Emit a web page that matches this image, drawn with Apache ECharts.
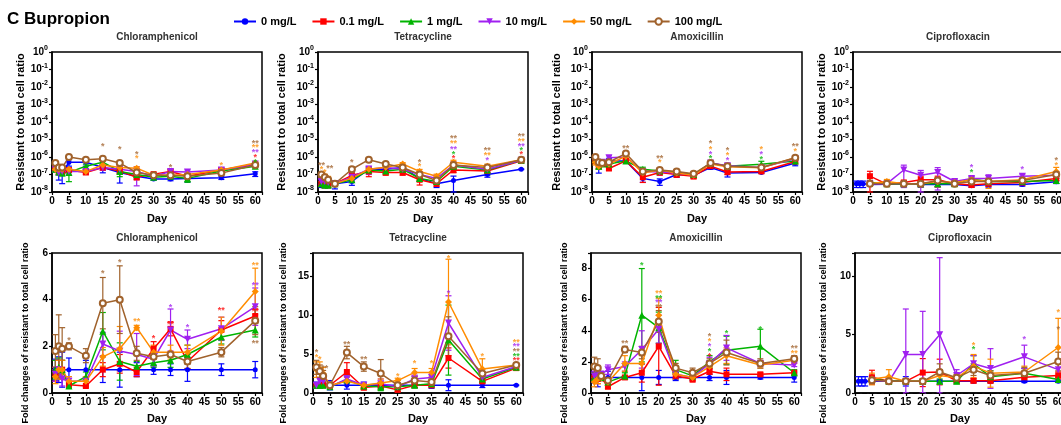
<!DOCTYPE html>
<html>
<head>
<meta charset="utf-8">
<script src="https://cdn.jsdelivr.net/npm/echarts@6/dist/echarts.min.js"></script>
<style>
  body { margin: 0; background: #fff; }
  #main { width: 1061px; height: 425px; }
</style>
</head>
<body>
<div id="main"></div>
<script>
// sampling days
var days = [1, 2, 3, 5, 10, 15, 20, 25, 30, 35, 40, 50, 60];
var groups = ["0 mg/L", "0.1 mg/L", "1 mg/L", "10 mg/L", "50 mg/L", "100 mg/L"];
var drugs = ["Chloramphenicol", "Tetracycline", "Amoxicillin", "Ciprofloxacin"];

// resistant / total cell ratio (rows = groups)
var chlRatio = [
  [3e-7, 1.2e-7, 1.2e-7, 5e-7, 5e-7, 2.5e-7, 1.3e-7, 8e-8, 5.5e-8, 5.5e-8, 6e-8, 6.5e-8, 1.1e-7],
  [2.5e-7, 1.5e-7, 1.5e-7, 1.8e-7, 1.3e-7, 2.5e-7, 1.6e-7, 7e-8, 1.05e-7, 1.5e-7, 8e-8, 1.8e-7, 3.6e-7],
  [2e-7, 1.4e-7, 1.2e-7, 1.3e-7, 3e-7, 5e-7, 1.5e-7, 1e-7, 7e-8, 8e-8, 6e-8, 1.6e-7, 3e-7],
  [2e-7, 1.3e-7, 1.5e-7, 1.5e-7, 1.5e-7, 2.5e-7, 2e-7, 1.5e-7, 8e-8, 1.5e-7, 1.4e-7, 1.8e-7, 4e-7],
  [2e-7, 2e-7, 2e-7, 2e-7, 1.5e-7, 3.5e-7, 2.5e-7, 2.3e-7, 9e-8, 9e-8, 1e-7, 1.8e-7, 4.5e-7],
  [4.5e-7, 2.5e-7, 2.5e-7, 1e-6, 7e-7, 8e-7, 4.5e-7, 1.3e-7, 9e-8, 9e-8, 8e-8, 1.2e-7, 3.5e-7]
];
var tetRatio = [
  [3e-8, 2.5e-8, 2.5e-8, 3e-8, 4e-8, 2e-7, 2e-7, 2.5e-7, 6e-8, 3e-8, 4.5e-8, 1e-7, 2e-7],
  [3e-8, 2.5e-8, 2.5e-8, 3e-8, 9e-8, 1.5e-7, 1.3e-7, 1.3e-7, 5e-8, 3e-8, 1.8e-7, 1.6e-7, 6e-7],
  [3e-8, 2.5e-8, 2.5e-8, 3e-8, 5e-8, 1.8e-7, 1.6e-7, 2e-7, 6e-8, 4e-8, 3e-7, 1.8e-7, 6.5e-7],
  [4e-8, 4e-8, 3.5e-8, 3e-8, 7e-8, 2e-7, 2.5e-7, 2e-7, 1e-7, 6e-8, 3.5e-7, 2e-7, 6.5e-7],
  [1e-7, 8e-8, 6e-8, 3e-8, 6e-8, 2e-7, 2.6e-7, 4e-7, 1.5e-7, 8e-8, 5e-7, 3e-7, 7e-7],
  [1e-7, 7e-8, 5e-8, 3e-8, 2e-7, 7e-7, 4e-7, 2.5e-7, 1e-7, 4.5e-8, 3.5e-7, 2.5e-7, 7e-7]
];
var amxRatio = [
  [7e-7, 3e-7, 4e-7, 6e-7, 6e-7, 6e-8, 4e-8, 1e-7, 9e-8, 2.5e-7, 1.2e-7, 1.3e-7, 4.5e-7],
  [6e-7, 3e-7, 4e-7, 2.2e-7, 6e-7, 7e-8, 1.3e-7, 1e-7, 8e-8, 3e-7, 1.4e-7, 1.5e-7, 5.5e-7],
  [7e-7, 3e-7, 4e-7, 4e-7, 6e-7, 2e-7, 1.6e-7, 1.4e-7, 1e-7, 4.5e-7, 3e-7, 3.8e-7, 6e-7],
  [7e-7, 4e-7, 5e-7, 9e-7, 1e-6, 1.5e-7, 1.4e-7, 1.2e-7, 9e-8, 4.5e-7, 3.2e-7, 2.5e-7, 8e-7],
  [5e-7, 3e-7, 4e-7, 4e-7, 1.1e-6, 1.2e-7, 1.8e-7, 1.2e-7, 9e-8, 4e-7, 2.8e-7, 2.4e-7, 9e-7],
  [1e-6, 5e-7, 4.5e-7, 5e-7, 1.6e-6, 1.5e-7, 1.8e-7, 1.5e-7, 1.1e-7, 4.5e-7, 3e-7, 2.5e-7, 9e-7]
];
var cipRatio = [
  [3e-8, 3e-8, 3e-8, 2.7e-8, 2.8e-8, 3e-8, 2.7e-8, 2.7e-8, 2.7e-8, 2.3e-8, 2.7e-8, 2.7e-8, 3.8e-8],
  [null, null, null, 8e-8, 2.8e-8, 3.5e-8, 5e-8, 5e-8, 3e-8, 2.5e-8, 3e-8, 3.5e-8, 6e-8],
  [null, null, null, 3.5e-8, 3e-8, 3e-8, 3e-8, 3e-8, 3e-8, 5.5e-8, 4e-8, 4e-8, 4.5e-8],
  [null, null, null, 3e-8, 3e-8, 1.8e-7, 9e-8, 1.3e-7, 4e-8, 6e-8, 6e-8, 8e-8, 9e-8],
  [null, null, null, 3e-8, 4e-8, 3e-8, 3e-8, 4e-8, 3.5e-8, 5e-8, 4e-8, 5e-8, 1.5e-7],
  [null, null, null, 3e-8, 3e-8, 3e-8, 3e-8, 4.5e-8, 3e-8, 4e-8, 4e-8, 4.5e-8, 1e-7]
];
// error of the ratio, as a fraction of the value
var chlRatioErr = [
  [0.5, 0.6, 0.75, 0.4, 0.4, 0.5, 0.75, 0.3, 0.15, 0.2, 0.4, 0.2, 0.3],
  [0.3, 0.3, 0.3, 0.2, 0.2, 0.3, 0.3, 0.3, 0.2, 0.2, 0.3, 0.2, 0.2],
  [0.3, 0.3, 0.3, 0.7, 0.3, 0.3, 0.5, 0.3, 0.2, 0.2, 0.4, 0.2, 0.2],
  [0.3, 0.3, 0.3, 0.3, 0.3, 0.3, 0.4, 0.85, 0.2, 0.3, 0.3, 0.3, 0.2],
  [0.2, 0.2, 0.2, 0.2, 0.2, 0.2, 0.3, 0.2, 0.2, 0.2, 0.2, 0.3, 0.2],
  [0.2, 0.3, 0.3, 0.2, 0.2, 0.2, 0.2, 0.3, 0.1, 0.1, 0.2, 0.2, 0.2]
];
var tetRatioErr = [
  [0.4, 0.3, 0.3, 0.5, 0.4, 0.3, 0.3, 0.3, 0.3, 0.4, 0.8, 0.3, 0.05],
  [0.3, 0.3, 0.3, 0.3, 0.3, 0.5, 0.3, 0.3, 0.5, 0.3, 0.3, 0.3, 0.2],
  [0.3, 0.3, 0.3, 0.3, 0.3, 0.3, 0.3, 0.3, 0.3, 0.3, 0.3, 0.5, 0.2],
  [0.3, 0.3, 0.3, 0.3, 0.3, 0.5, 0.5, 0.3, 0.3, 0.5, 0.3, 0.3, 0.2],
  [0.3, 0.3, 0.3, 0.3, 0.3, 0.3, 0.3, 0.2, 0.3, 0.3, 0.3, 0.3, 0.2],
  [0.3, 0.3, 0.3, 0.3, 0.3, 0.3, 0.3, 0.3, 0.3, 0.3, 0.3, 0.3, 0.2]
];
var amxRatioErr = [
  [0.3, 0.6, 0.2, 0.4, 0.1, 0.4, 0.4, 0.3, 0.3, 0.2, 0.4, 0.1, 0.3],
  [0.3, 0.3, 0.2, 0.2, 0.2, 0.5, 0.3, 0.3, 0.3, 0.2, 0.3, 0.2, 0.2],
  [0.3, 0.3, 0.2, 0.2, 0.2, 0.3, 0.3, 0.3, 0.3, 0.2, 0.3, 0.5, 0.2],
  [0.3, 0.3, 0.2, 0.3, 0.3, 0.3, 0.3, 0.3, 0.3, 0.2, 0.3, 0.2, 0.2],
  [0.3, 0.3, 0.2, 0.2, 0.2, 0.3, 0.3, 0.3, 0.3, 0.2, 0.3, 0.2, 0.2],
  [0.2, 0.3, 0.2, 0.2, 0.2, 0.3, 0.3, 0.3, 0.3, 0.2, 0.3, 0.2, 0.2]
];
var cipRatioErr = [
  [0.4, 0.4, 0.4, 0.2, 0.2, 0.3, 0.3, 0.3, 0.2, 0.2, 0.3, 0.2, 0.2],
  [null, null, null, 0.9, 0.2, 0.3, 0.6, 0.6, 0.2, 0.2, 0.3, 0.3, 0.3],
  [null, null, null, 0.3, 0.2, 0.3, 0.3, 0.3, 0.2, 0.3, 0.3, 0.3, 0.3],
  [null, null, null, 0.3, 0.2, 0.9, 0.9, 0.9, 0.3, 0.3, 0.6, 0.3, 0.3],
  [null, null, null, 0.3, 0.3, 0.3, 0.3, 0.5, 0.3, 0.3, 0.6, 0.3, 0.7],
  [null, null, null, 0.3, 0.2, 0.3, 0.3, 0.4, 0.3, 0.3, 0.3, 0.3, 0.4]
];

// fold changes vs 0 mg/L
var chlFold = [
  [1, 1, 1, 1, 1, 1, 1, 1, 1, 1, 1, 1, 1],
  [0.8, 1.0, 1.0, 0.35, 0.3, 1.0, 1.25, 0.9, 1.9, 2.75, 1.35, 2.7, 3.3],
  [1.0, 1.1, 1.0, 0.3, 0.7, 2.65, 1.35, 1.15, 1.3, 1.4, 1.65, 2.4, 2.7],
  [0.8, 1.0, 0.6, 0.5, 0.5, 2.1, 1.8, 1.65, 1.45, 2.7, 2.3, 2.75, 3.7],
  [0.7, 1.0, 1.0, 0.5, 0.5, 1.55, 1.9, 2.8, 1.75, 1.75, 1.75, 2.65, 4.35],
  [1.8, 2.0, 1.9, 2.0, 1.6, 3.85, 4.0, 1.7, 1.55, 1.65, 1.35, 1.75, 3.1]
];
var chlFoldErr = [
  [0.45, 0.55, 0.75, 0.5, 0.4, 0.55, 0.75, 0.3, 0.2, 0.25, 0.5, 0.25, 0.35],
  [0.3, 0.4, 0.4, 0.1, 0.05, 0.3, 0.4, 0.2, 0.3, 0.3, 0.3, 0.4, 0.3],
  [0.4, 0.4, 0.4, 0.1, 0.2, 0.8, 0.8, 0.2, 0.2, 0.3, 0.4, 0.3, 0.3],
  [0.3, 0.4, 0.3, 0.2, 0.2, 0.5, 0.85, 0.9, 0.3, 0.9, 0.4, 0.5, 0.8],
  [0.3, 0.4, 0.4, 0.2, 0.2, 0.4, 0.95, 0.1, 0.3, 0.3, 0.3, 0.6, 1.0],
  [0.7, 1.35, 0.9, 0.15, 0.3, 1.1, 1.45, 0.3, 0.1, 0.1, 0.3, 0.2, 0.6]
];
var tetFold = [
  [1, 1, 1, 1, 1, 1, 1, 1, 1, 1, 1, 1, 1],
  [1.0, 1.0, 1.0, 1.0, 2.7, 0.7, 0.9, 0.4, 1.0, 1.0, 4.5, 1.5, 3.2],
  [1.0, 1.0, 1.0, 0.8, 1.7, 0.9, 0.8, 0.8, 1.0, 1.2, 6.8, 1.8, 3.3],
  [1.0, 1.5, 1.5, 0.8, 1.8, 1.0, 1.2, 0.8, 1.8, 2.0, 9.0, 2.0, 3.4],
  [3.0, 3.0, 2.5, 1.0, 1.5, 1.0, 1.3, 1.6, 2.65, 2.65, 11.7, 3.1, 3.6],
  [3.3, 2.8, 2.2, 1.0, 5.2, 3.4, 2.5, 1.0, 1.6, 1.4, 7.3, 2.5, 3.6]
];
var tetFoldErr = [
  [0.4, 0.3, 0.3, 0.6, 0.5, 0.4, 0.3, 0.3, 0.3, 0.4, 0.7, 0.3, 0.05],
  [0.3, 0.3, 0.3, 0.3, 1.2, 0.3, 0.5, 0.2, 0.3, 0.3, 1.3, 0.3, 0.2],
  [0.3, 0.3, 0.3, 0.3, 0.5, 0.3, 0.5, 0.3, 0.3, 0.3, 4.5, 0.4, 0.2],
  [0.3, 0.5, 0.5, 0.3, 0.5, 0.3, 0.6, 0.3, 0.5, 0.6, 3.5, 0.5, 0.2],
  [1.0, 1.0, 0.8, 0.3, 0.5, 0.3, 0.5, 0.3, 0.5, 0.5, 5.5, 1.3, 0.2],
  [0.9, 0.8, 0.7, 0.3, 0.8, 0.6, 1.8, 0.3, 0.5, 0.4, 2.5, 0.6, 0.2]
];
var amxFold = [
  [1, 1, 1, 1, 1, 1, 1, 1, 1, 1, 1, 1, 1],
  [1.0, 0.9, 1.0, 0.4, 1.0, 1.3, 3.0, 1.1, 0.9, 1.4, 1.2, 1.2, 1.3],
  [1.0, 1.1, 1.0, 0.7, 1.1, 5.0, 4.2, 1.5, 1.1, 2.0, 2.75, 3.0, 1.3],
  [1.1, 1.1, 1.2, 1.5, 1.7, 2.8, 4.1, 1.2, 1.0, 1.9, 2.9, 1.9, 1.8],
  [0.7, 0.9, 1.0, 0.7, 1.9, 1.9, 5.0, 1.2, 1.0, 1.7, 2.4, 1.8, 2.1],
  [1.7, 1.6, 1.1, 0.8, 2.8, 2.6, 4.6, 1.6, 1.3, 1.9, 2.6, 1.9, 2.2]
];
var amxFoldErr = [
  [0.35, 0.6, 0.2, 0.4, 0.05, 0.85, 0.45, 0.2, 0.2, 0.2, 0.45, 0.1, 0.3],
  [0.3, 0.3, 0.2, 0.1, 0.1, 0.6, 2.5, 0.2, 0.2, 0.2, 0.4, 0.1, 0.1],
  [0.3, 0.3, 0.2, 0.1, 0.2, 3.0, 1.0, 0.6, 0.2, 0.4, 0.9, 1.1, 0.2],
  [0.3, 0.3, 0.2, 0.3, 0.3, 1.2, 0.9, 0.3, 0.2, 0.4, 0.8, 0.2, 0.1],
  [0.3, 0.3, 0.2, 0.1, 0.5, 0.5, 1.1, 0.3, 0.2, 0.3, 0.5, 0.2, 0.2],
  [0.6, 0.6, 0.2, 0.2, 0.2, 0.4, 0.7, 0.3, 0.3, 0.3, 0.8, 0.3, 0.2]
];
var cipFold = [
  [1, 1, 1, 1, 1, 1, 1, 1, 1, 1, 1, 1, 1],
  [null, null, null, 1.35, 1.0, 1.0, 1.75, 1.8, 1.05, 1.05, 1.05, 1.35, 1.5],
  [null, null, null, 1.2, 1.0, 1.0, 1.0, 1.0, 1.0, 2.5, 1.4, 1.7, 1.15],
  [null, null, null, 1.1, 1.0, 3.3, 3.3, 5.0, 1.5, 2.5, 2.1, 3.1, 2.0],
  [null, null, null, 1.2, 1.4, 1.0, 1.0, 1.5, 1.3, 2.3, 1.7, 1.8, 3.9],
  [null, null, null, 1.1, 1.0, 1.0, 1.0, 1.8, 1.3, 2.0, 1.5, 1.7, 2.7]
];
var cipFoldErr = [
  [0.4, 0.4, 0.4, 0.1, 0.1, 0.4, 0.1, 0.1, 0.1, 0.1, 0.1, 0.1, 0.1],
  [null, null, null, 0.6, 0.2, 0.2, 1.2, 1.1, 0.1, 0.2, 0.2, 0.3, 0.3],
  [null, null, null, 0.3, 0.2, 0.2, 0.2, 0.2, 0.2, 0.7, 0.5, 0.4, 0.2],
  [null, null, null, 0.3, 0.2, 3.9, 3.7, 6.6, 0.5, 0.7, 1.7, 1.0, 0.6],
  [null, null, null, 0.5, 0.6, 0.2, 0.2, 0.5, 0.3, 1.0, 1.2, 0.5, 2.5],
  [null, null, null, 0.3, 0.2, 0.2, 0.2, 0.7, 0.3, 0.5, 0.4, 0.5, 0.8]
];
var foldMax = [6, 18, 9, 12];
var foldStep = [2, 5, 2, 5];

// significance marks: [day, y, mark, group]
var chlStarsTop = [
  [15, 5e-6, "*", 5], [20, 3.3e-6, "*", 5], [25, 1.9e-6, "*", 5], [25, 1.1e-6, "*", 4],
  [35, 3.3e-7, "*", 5], [50, 4.1e-7, "*", 4],
  [60, 8e-6, "**", 5], [60, 4.3e-6, "**", 4], [60, 2.3e-6, "**", 3], [60, 1.25e-6, "*", 1], [60, 6.7e-7, "*", 2]
];
var tetStarsTop = [
  [1, 4.5e-7, "**", 5], [1, 2.5e-7, "*", 4], [2, 1.6e-7, "*", 4], [3.5, 3e-7, "**", 5],
  [10, 5.9e-7, "*", 5], [30, 5.9e-7, "*", 5], [30, 3.5e-7, "*", 4],
  [40, 1.4e-5, "**", 5], [40, 7.2e-6, "**", 4], [40, 3.7e-6, "**", 3], [40, 1.9e-6, "*", 2], [40, 1e-6, "*", 1],
  [50, 3e-6, "**", 5], [50, 1.5e-6, "**", 4], [50, 8e-7, "*", 3],
  [60, 2e-5, "**", 5], [60, 1e-5, "**", 4], [60, 5.3e-6, "**", 3], [60, 3e-6, "*", 2], [60, 1.7e-6, "*", 1]
];
var amxStarsTop = [
  [10, 4.1e-6, "**", 5], [20, 1.1e-6, "**", 5], [20, 5.9e-7, "*", 4],
  [35, 7.2e-6, "*", 5], [35, 3.7e-6, "*", 4], [35, 1.9e-6, "*", 3], [35, 1.1e-6, "*", 2],
  [40, 3e-6, "*", 5], [40, 1.5e-6, "*", 4], [40, 8e-7, "*", 3],
  [50, 3.4e-6, "*", 4], [50, 1.8e-6, "*", 3], [50, 9e-7, "*", 2],
  [60, 5.3e-6, "**", 5], [60, 2.6e-6, "*", 4]
];
var cipStarsTop = [
  [35, 3.3e-7, "*", 3], [35, 1.6e-7, "*", 2], [50, 2.5e-7, "*", 3],
  [60, 8e-7, "*", 5], [60, 4.5e-7, "*", 4]
];
var chlStarsFold = [
  [5, 2.34, "*", 5], [15, 5.2, "*", 5], [20, 5.68, "*", 5], [25, 3.13, "**", 4],
  [30, 2.44, "*", 1], [35, 3.77, "*", 3], [35, 3.0, "**", 1], [40, 2.91, "*", 3], [50, 3.6, "**", 1],
  [60, 5.54, "**", 4], [60, 4.68, "**", 3], [60, 3.56, "**", 1], [60, 2.2, "**", 5]
];
var tetStarsFold = [
  [1, 5.5, "*", 5], [1, 4.8, "*", 4], [2, 4.5, "*", 4], [3.5, 3.45, "**", 5],
  [10, 6.47, "**", 5], [15, 4.5, "**", 5], [25, 2.4, "*", 4], [30, 4.1, "*", 4], [35, 4.0, "*", 4],
  [40, 17.6, "*", 4], [40, 13, "*", 3], [50, 5.0, "*", 4],
  [60, 6.8, "**", 4], [60, 6.2, "**", 3], [60, 5.6, "**", 5], [60, 5.0, "**", 2], [60, 4.4, "**", 1]
];
var amxStarsFold = [
  [10, 3.33, "**", 5], [15, 8.33, "*", 2],
  [20, 6.5, "**", 4], [20, 6.22, "**", 2], [20, 5.92, "**", 3], [20, 5.64, "**", 5],
  [35, 3.78, "*", 5], [35, 3.45, "*", 4], [35, 3.13, "*", 3], [35, 2.81, "*", 2], [35, 2.49, "*", 1],
  [40, 3.93, "*", 2], [50, 4.22, "*", 2], [60, 2.96, "**", 5], [60, 2.64, "**", 4]
];
var cipStarsFold = [
  [35, 4.27, "*", 4], [35, 3.93, "*", 2], [50, 4.73, "*", 3], [60, 7.08, "*", 4], [60, 5.64, "*", 5]
];

var ratioData = [chlRatio, tetRatio, amxRatio, cipRatio];
var ratioErr = [chlRatioErr, tetRatioErr, amxRatioErr, cipRatioErr];
var foldData = [chlFold, tetFold, amxFold, cipFold];
var foldErr = [chlFoldErr, tetFoldErr, amxFoldErr, cipFoldErr];
var starData = [chlStarsTop, tetStarsTop, amxStarsTop, cipStarsTop,
                chlStarsFold, tetStarsFold, amxStarsFold, cipStarsFold];

// styling
var colors = ["#0000FF", "#FF0000", "#00B400", "#A020F0", "#FF8C00", "#A0622C"];
var symbols = ["circle", "rect", "triangle", "triangle", "diamond", "emptyCircle"];
var symbolRot = [0, 0, 0, 180, 0, 0];
var symbolSz = [5, 6, 7, 7, 7, 6];
var FONT = "Liberation Sans";

var topLeft = [52, 318, 592, 853];
var botLeft = [52, 313, 591, 855];
var topNameGap = [22, 31, 30, 18];
var botNameGap = [22, 25, 22, 27];

var chartDom = document.getElementById("main");
var myChart = echarts.init(chartDom);

var grids = [], xAxes = [], yAxes = [], series = [], graphics = [];

function errRender(color) {
  return function (params, api) {
    var x = api.value(0);
    var lo = api.coord([x, api.value(1)]);
    var hi = api.coord([x, api.value(2)]);
    var w = 3;
    var st = { stroke: color, lineWidth: 1.2 };
    return {
      type: "group",
      children: [
        { type: "line", shape: { x1: lo[0], y1: lo[1], x2: hi[0], y2: hi[1] }, style: st },
        { type: "line", shape: { x1: hi[0] - w, y1: hi[1], x2: hi[0] + w, y2: hi[1] }, style: st },
        { type: "line", shape: { x1: lo[0] - w, y1: lo[1], x2: lo[0] + w, y2: lo[1] }, style: st }
      ]
    };
  };
}

for (var p = 0; p < 8; p++) {
  var row = p < 4 ? 0 : 1;
  var col = p % 4;
  var gLeft = row ? botLeft[col] : topLeft[col];
  var gTop = row ? 253 : 52;
  grids.push({
    left: gLeft, top: gTop, width: 210, height: 140,
    outerBoundsMode: "none", containLabel: false,
    show: true, borderColor: "#000", borderWidth: 1.5
  });
  xAxes.push({
    gridIndex: p, type: "value", min: 0, max: 62, interval: 5,
    axisLine: { onZero: false, lineStyle: { color: "#000", width: 1.5 } },
    axisTick: { length: 3, lineStyle: { color: "#000", width: 1.2 } },
    splitLine: { show: false },
    axisLabel: {
      color: "#000", fontFamily: FONT, fontWeight: "bold", fontSize: 10, margin: 4,
      formatter: function (v) { return v % 5 === 0 && v <= 60 ? v : ""; }
    },
    name: "Day", nameLocation: "middle", nameGap: row ? 20 : 21,
    nameTextStyle: { color: "#000", fontFamily: FONT, fontWeight: "bold", fontSize: 11 }
  });
  if (row === 0) {
    yAxes.push({
      gridIndex: p, type: "log", logBase: 10, min: 1e-8, max: 1,
      axisLine: { lineStyle: { color: "#000", width: 1.5 } },
      axisTick: { length: 3, lineStyle: { color: "#000", width: 1.2 } },
      splitLine: { show: false },
      axisLabel: {
        margin: 4,
        formatter: function (v) {
          return "{b|10}{s|" + Math.round(Math.log10(v)) + "}";
        },
        rich: {
          b: { color: "#000", fontFamily: FONT, fontWeight: "bold", fontSize: 10, lineHeight: 14 },
          s: { color: "#000", fontFamily: FONT, fontWeight: "bold", fontSize: 7, lineHeight: 8, verticalAlign: "top" }
        }
      },
      name: "Resistant to total cell ratio", nameLocation: "middle", nameGap: topNameGap[col],
      nameTextStyle: { color: "#000", fontFamily: FONT, fontWeight: "bold", fontSize: 11 }
    });
  } else {
    yAxes.push({
      gridIndex: p, type: "value", min: 0, max: foldMax[col], interval: foldStep[col],
      axisLine: { lineStyle: { color: "#000", width: 1.5 } },
      axisTick: { length: 3, lineStyle: { color: "#000", width: 1.2 } },
      splitLine: { show: false },
      axisLabel: {
        color: "#000", fontFamily: FONT, fontWeight: "bold", fontSize: 10, margin: 4,
        formatter: (function (step) {
          return function (v) { return v % step === 0 ? v : ""; };
        })(foldStep[col])
      },
      name: "Fold changes of resistant to total cell ratio", nameLocation: "middle", nameGap: botNameGap[col],
      nameTextStyle: { color: "#000", fontFamily: FONT, fontWeight: "bold", fontSize: 9, padding: [0, 20, 0, 0] }
    });
  }
  graphics.push({
    type: "text", x: gLeft + 105, y: row ? 238 : 37,
    style: {
      text: drugs[col], font: "bold 10px " + FONT, fill: "#333",
      align: "center", verticalAlign: "middle", textAlign: "center", textVerticalAlign: "middle"
    }
  });

  var vals = row ? foldData[col] : ratioData[col];
  var errs = row ? foldErr[col] : ratioErr[col];
  for (var g = 0; g < 6; g++) {
    var lineData = [], errData = [];
    for (var i = 0; i < days.length; i++) {
      var v = vals[g][i];
      lineData.push([days[i], v]);
      if (v == null) continue;
      var e = errs[g][i];
      if (row) {
        errData.push([days[i], Math.max(0, v - e), v + e]);
      } else {
        errData.push([days[i], Math.max(1e-8, v * (1 - e)), v * (1 + e)]);
      }
    }
    series.push({
      type: "custom", name: groups[g] + " err", xAxisIndex: p, yAxisIndex: p,
      renderItem: errRender(colors[g]), data: errData, z: 2, silent: true,
      encode: { x: 0, y: [1, 2] }
    });
    var s = {
      type: "line", name: groups[g], xAxisIndex: p, yAxisIndex: p, data: lineData,
      symbol: symbols[g], symbolSize: symbolSz[g], symbolRotate: symbolRot[g],
      connectNulls: true, z: 3,
      lineStyle: { color: colors[g], width: 1.5 },
      itemStyle: { color: colors[g], borderColor: colors[g], borderWidth: g === 5 ? 1.3 : 0 }
    };
    if (p === 7 && g === 0) {
      s.markLine = {
        silent: true, symbol: "none", label: { show: false },
        lineStyle: { color: "#000", type: "dashed", width: 1.2 },
        data: [{ yAxis: 0 }]
      };
    }
    series.push(s);

    // significance marks of this group
    var marks = starData[p].filter(function (m) { return m[3] === g; });
    if (marks.length) {
      series.push({
        type: "scatter", name: groups[g] + " sig", xAxisIndex: p, yAxisIndex: p,
        data: marks.map(function (m) { return [m[0], m[1], m[2]]; }),
        symbolSize: 0, silent: true, z: 4,
        label: {
          show: true, position: "inside", offset: [0, 2],
          formatter: function (q) { return q.value[2]; },
          color: colors[g], fontFamily: FONT, fontWeight: "bold", fontSize: 9
        }
      });
    }
  }
}

var option = {
  animation: false,
  title: {
    text: "C Bupropion", left: 2, top: 6,
    textStyle: { color: "#000", fontFamily: FONT, fontWeight: "bold", fontSize: 17 }
  },
  legend: {
    data: groups, left: 228, top: 11, itemGap: 15, itemWidth: 22, itemHeight: 8,
    textStyle: { color: "#000", fontFamily: FONT, fontWeight: "bold", fontSize: 11 }
  },
  grid: grids,
  xAxis: xAxes,
  yAxis: yAxes,
  graphic: graphics,
  series: series
};

option && myChart.setOption(option);
</script>
</body>
</html>
